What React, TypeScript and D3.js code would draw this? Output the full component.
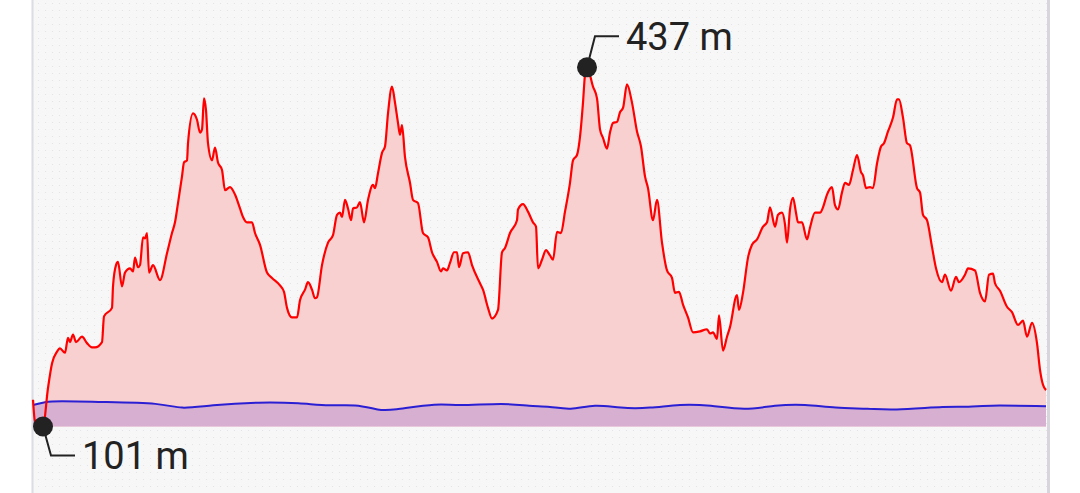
import React, { useEffect, useRef } from "react";
import * as d3 from "d3";

// distance along the track (km) and elevation (m)
const distanceKm = [
  0, 0.02, 0.1, 0.15, 0.19, 0.24, 0.27, 0.32, 0.35, 0.37, 0.4, 0.43, 0.49, 0.54, 0.59, 0.62, 0.69,
  0.71, 0.79, 0.8, 0.83, 0.85, 0.89, 0.92, 0.97, 1.0, 1.02, 1.05, 1.07, 1.1, 1.12, 1.14, 1.16, 1.2,
  1.27, 1.34, 1.39, 1.42, 1.45, 1.49, 1.51, 1.54, 1.55, 1.6, 1.64, 1.67, 1.69, 1.71, 1.73, 1.75,
  1.79, 1.82, 1.85, 1.89, 1.92, 1.97, 2.02, 2.07, 2.1, 2.14, 2.19, 2.22, 2.27, 2.34, 2.39, 2.47,
  2.51, 2.54, 2.59, 2.64, 2.67, 2.72, 2.75, 2.79, 2.82, 2.84, 2.89, 2.95, 3.0, 3.04, 3.07, 3.09,
  3.12, 3.15, 3.18, 3.2, 3.24, 3.27, 3.31, 3.35, 3.4, 3.42, 3.45, 3.49, 3.52, 3.55, 3.59, 3.62,
  3.65, 3.67, 3.69, 3.72, 3.77, 3.8, 3.85, 3.9, 3.95, 3.99, 4.04, 4.08, 4.1, 4.14, 4.17, 4.21,
  4.24, 4.26, 4.3, 4.35, 4.39, 4.47, 4.5, 4.55, 4.59, 4.65, 4.69, 4.72, 4.77, 4.84, 4.85, 4.9,
  4.95, 5.0, 5.03, 5.05, 5.09, 5.13, 5.17, 5.2, 5.24, 5.28, 5.32, 5.37, 5.4, 5.44, 5.47, 5.5,
  5.52, 5.54, 5.6, 5.64, 5.67, 5.7, 5.74, 5.77, 5.8, 5.84, 5.87, 5.9, 5.94, 5.99, 6.04, 6.08,
  6.12, 6.15, 6.2, 6.24, 6.29, 6.34, 6.39, 6.42, 6.46, 6.5, 6.55, 6.6, 6.67, 6.74, 6.77, 6.8,
  6.84, 6.86, 6.9, 6.94, 6.97, 7.04, 7.06, 7.1, 7.15, 7.19, 7.24, 7.3, 7.34, 7.37, 7.42, 7.45,
  7.49, 7.52, 7.54, 7.57, 7.6, 7.63, 7.65, 7.69, 7.74, 7.77, 7.82, 7.87, 7.9, 7.94, 7.99, 8.02,
  8.05, 8.09, 8.12, 8.16, 8.2, 8.24, 8.28, 8.3, 8.33, 8.37, 8.4, 8.44, 8.48, 8.51, 8.55, 8.6,
  8.64, 8.66, 8.7, 8.74, 8.77, 8.84, 8.87, 8.9, 8.94, 8.99, 9.03, 9.09, 9.12, 9.18, 9.23, 9.26,
  9.32, 9.35, 9.42, 9.47, 9.52, 9.56, 9.6, 9.62, 9.67, 9.74, 9.79, 9.85, 9.9, 9.94, 9.99, 10.04,
  10.07, 10.1, 10.13,
];

const elevation = [
  126, 106, 101, 137, 160, 171, 174, 170, 184, 180, 187, 180, 185, 179, 175, 175, 180,
  204, 212, 232, 252, 255, 232, 245, 249, 246, 259, 250, 252, 278, 277, 282, 245, 252,
  238, 263, 282, 292, 310, 335, 348, 350, 366, 394, 388, 376, 379, 408, 397, 366,
  350, 362, 348, 341, 322, 325, 318, 305, 297, 292, 292, 282, 271, 245, 240, 233,
  227, 212, 203, 203, 219, 229, 236, 229, 221, 222, 252, 273, 280, 299, 301, 297,
  313, 305, 294, 305, 306, 311, 292, 313, 327, 324, 338, 357, 363, 394, 419, 404,
  385, 374, 383, 353, 329, 313, 310, 282, 278, 264, 255, 246, 249, 247, 254, 264,
  264, 250, 263, 264, 252, 235, 229, 212, 202, 210, 264, 268, 282, 294, 304, 309,
  302, 292, 288, 249, 257, 266, 261, 257, 283, 282, 302, 329, 350, 355, 372, 404,
  430, 437, 419, 408, 379, 371, 361, 376, 385, 386, 395, 399, 421, 404, 377, 363,
  335, 324, 294, 313, 273, 247, 240, 226, 227, 215, 203, 189, 190, 192, 188, 189,
  183, 205, 172, 185, 194, 224, 210, 226, 259, 271, 276, 288, 292, 306, 288, 299,
  301, 290, 273, 304, 315, 301, 292, 292, 276, 287, 301, 301, 306, 318, 325, 308,
  304, 320, 329, 327, 341, 355, 339, 336, 324, 325, 324, 347, 363, 366, 377, 390,
  407, 407, 390, 366, 364, 324, 320, 299, 294, 269, 249, 236, 243, 228, 241, 236,
  243, 249, 247, 226, 218, 243, 244, 235, 228, 213, 208, 196, 200, 185, 198, 179,
  154, 140, 135,
];

// second series (lower profile)
const baseDistanceKm = [
  0, 0.12, 0.24, 0.67, 1.3, 1.47, 1.77, 2.27, 2.67, 2.97, 3.22, 3.47, 3.57, 4.07, 4.22, 4.72,
  4.97, 5.17, 5.37, 5.62, 5.87, 6.17, 6.47, 6.77, 7.12, 7.42, 7.72, 8.02, 8.37, 8.57, 9.17,
  9.32, 9.52, 10.13,
];
const baseElevation = [
  121, 124, 125, 124, 123, 117, 121, 124, 123, 120, 122, 116, 116, 123, 120, 123,
  120, 120, 116, 122, 118, 118, 122, 121, 116, 121, 122, 118, 118, 116, 120,
  119, 121, 120,
];

const totalKm = 10.14;
const yDomain = [101, 500];

const App: React.FC = () => {
  const svgRef = useRef<SVGSVGElement>(null);

  useEffect(() => {
    const width = 1080;
    const height = 493;
    const left = 33;
    const right = 1047;
    const bottom = 426.5;

    const svg = d3.select(svgRef.current);
    svg.selectAll("*").remove();
    svg.attr("width", width).attr("height", height);

    const x = d3.scaleLinear().domain([0, totalKm]).range([left, right]);
    const y = d3.scaleLinear().domain(yDomain).range([bottom, 0]);

    // background + dotted texture
    const defs = svg.append("defs");
    const pat = defs
      .append("pattern")
      .attr("id", "dots")
      .attr("width", 7)
      .attr("height", 7)
      .attr("patternUnits", "userSpaceOnUse");
    pat.append("rect").attr("width", 7).attr("height", 7).attr("fill", "#f7f7f7");
    pat.append("circle").attr("cx", 3.5).attr("cy", 3.5).attr("r", 0.6).attr("fill", "#e2e2e2");

    svg.append("rect").attr("width", width).attr("height", height).attr("fill", "#fff");
    svg
      .append("rect")
      .attr("x", left)
      .attr("y", 0)
      .attr("width", right - left)
      .attr("height", height)
      .attr("fill", "url(#dots)");
    svg
      .append("line")
      .attr("x1", left - 0.5)
      .attr("x2", left - 0.5)
      .attr("y1", 0)
      .attr("y2", height)
      .attr("stroke", "#dcdce4")
      .attr("stroke-width", 2);
    svg
      .append("rect")
      .attr("x", right)
      .attr("y", 0)
      .attr("width", 3)
      .attr("height", height)
      .attr("fill", "#d8d6dc");

    const main = distanceKm.map((d, i) => ({ d, e: elevation[i] }));
    const base = baseDistanceKm.map((d, i) => ({ d, e: baseElevation[i] }));

    const area = (curve: d3.CurveFactory) =>
      d3
        .area<{ d: number; e: number }>()
        .x((p) => x(p.d))
        .y0(bottom)
        .y1((p) => y(p.e))
        .curve(curve);
    const line = (curve: d3.CurveFactory) =>
      d3
        .line<{ d: number; e: number }>()
        .x((p) => x(p.d))
        .y((p) => y(p.e))
        .curve(curve);

    svg.append("path").datum(main).attr("d", area(d3.curveMonotoneX)).attr("fill", "#f9d0d0");
    svg.append("path").datum(base).attr("d", area(d3.curveBasis)).attr("fill", "#d7afd1");
    svg
      .append("path")
      .datum(base)
      .attr("d", line(d3.curveBasis))
      .attr("fill", "none")
      .attr("stroke", "#2a1fd3")
      .attr("stroke-width", 2);
    svg
      .append("path")
      .datum(main)
      .attr("d", line(d3.curveMonotoneX))
      .attr("fill", "none")
      .attr("stroke", "#ff0000")
      .attr("stroke-width", 2.2)
      .attr("stroke-linejoin", "round");

    // max / min markers
    const maxPt = main[d3.maxIndex(main, (p) => p.e)];
    const minPt = main[d3.minIndex(main, (p) => p.e)];
    const marks = [
      { p: maxPt, dy: -31 },
      { p: minPt, dy: 29 },
    ];
    marks.forEach(({ p, dy }) => {
      const cx = x(p.d);
      const cy = y(p.e);
      svg
        .append("path")
        .attr("d", `M${cx},${cy}L${cx + 8},${cy + dy}h24`)
        .attr("fill", "none")
        .attr("stroke", "#222")
        .attr("stroke-width", 2);
      svg.append("circle").attr("cx", cx).attr("cy", cy).attr("r", 10).attr("fill", "#222");
      svg
        .append("text")
        .attr("x", cx + 39)
        .attr("y", cy + dy)
        .attr("dy", "0.36em")
        .attr("font-family", "Roboto, sans-serif")
        .attr("font-size", 38)
        .attr("fill", "#222")
        .text(`${p.e} m`);
    });
  }, []);

  return <svg ref={svgRef} style={{ position: "absolute", left: 0, top: 0 }}></svg>;
};

export default App;
